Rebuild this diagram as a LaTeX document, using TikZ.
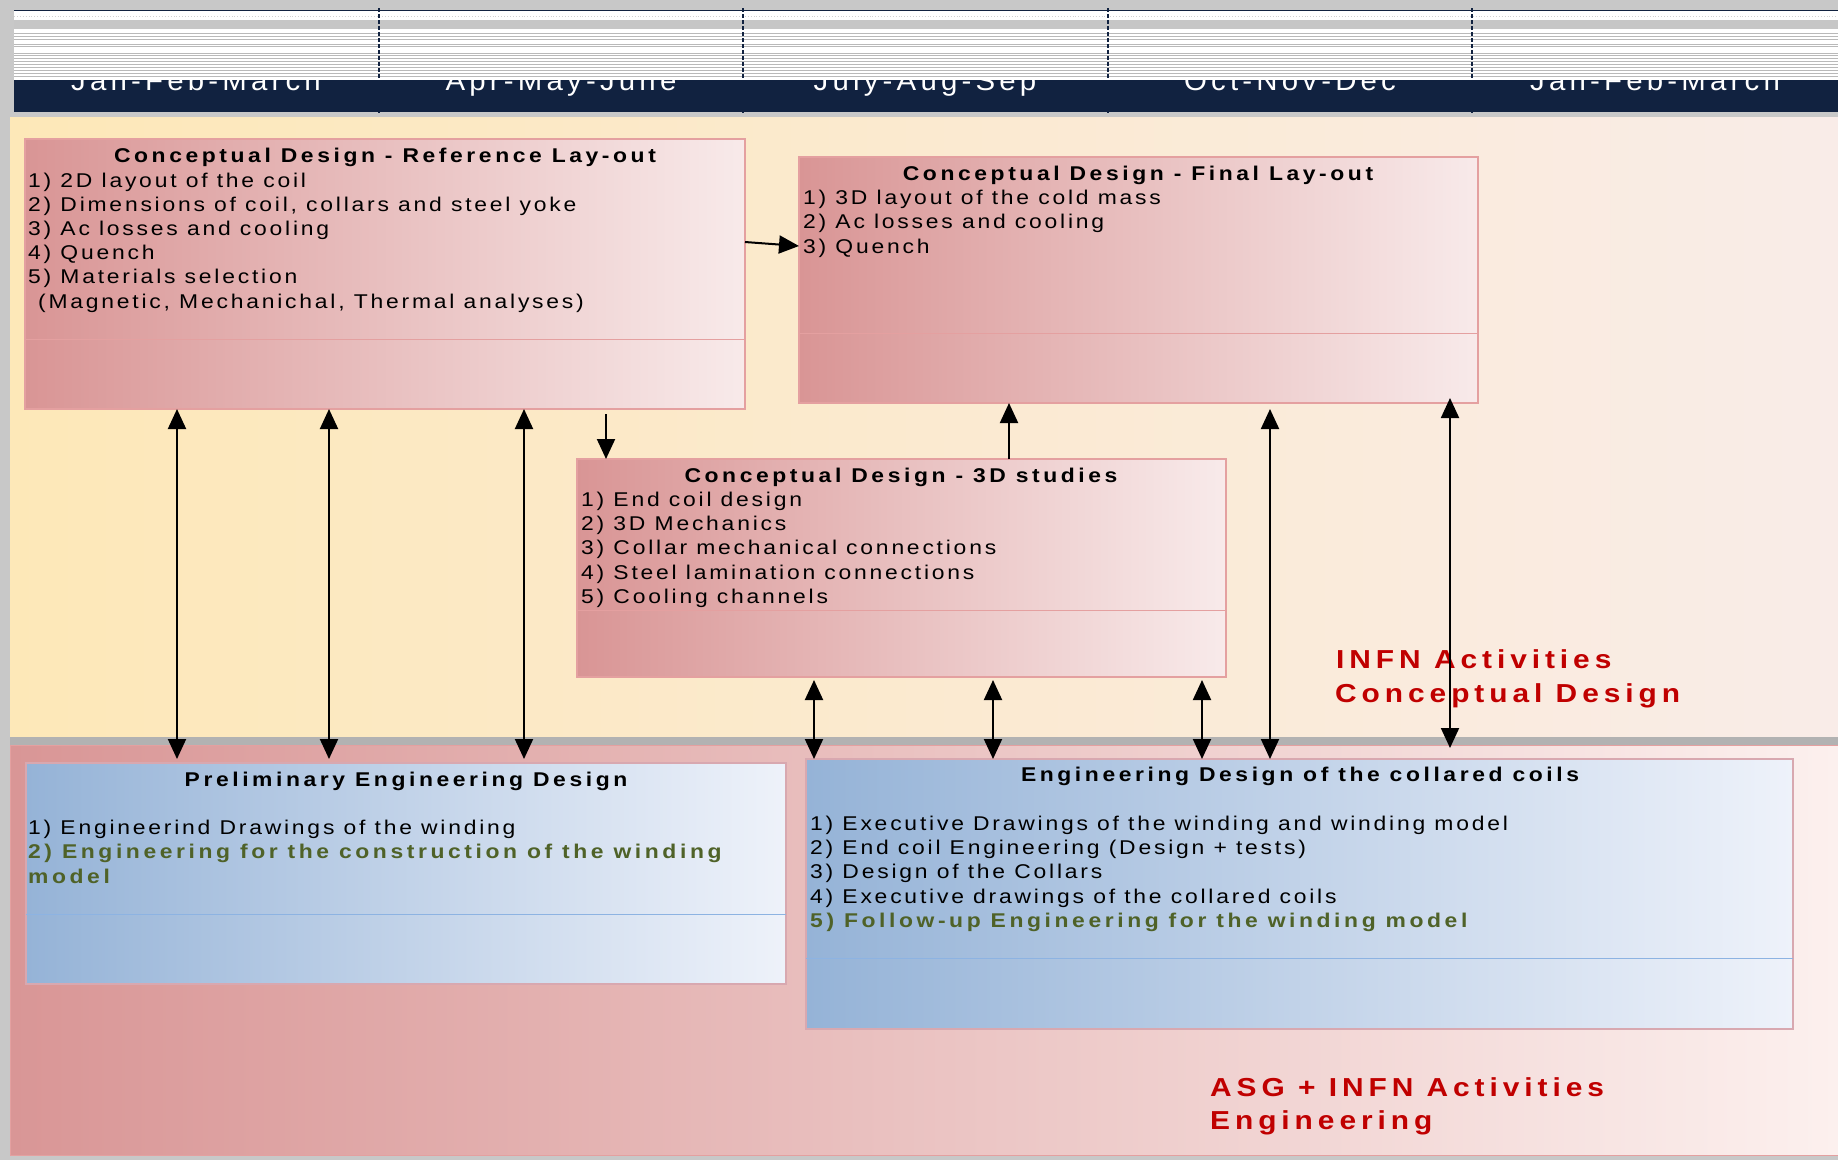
\documentclass[tikz,border=0pt]{standalone}
\usepackage{fontspec}
\setmainfont{Liberation Sans}[FakeStretch=1.15, LetterSpace=14]
\newfontfamily\boldsp{Liberation Sans}[FakeStretch=1.15, LetterSpace=18]
\newfontfamily\lblsp{Liberation Sans}[FakeStretch=1.15, LetterSpace=19]
\newfontfamily\monf{Liberation Sans}[FakeStretch=1.05, LetterSpace=15]
\usetikzlibrary{arrows.meta}
\definecolor{bggrey}{RGB}{200,200,200}
\definecolor{sepgrey}{RGB}{178,178,178}
\definecolor{navy}{RGB}{17,34,64}
\definecolor{upL}{RGB}{253,232,184}
\definecolor{upR}{RGB}{249,236,232}
\definecolor{lowL}{RGB}{217,150,150}
\definecolor{lowR}{RGB}{252,240,238}
\definecolor{pinkL}{RGB}{217,149,149}
\definecolor{pinkR}{RGB}{248,234,234}
\definecolor{pinkbd}{RGB}{228,160,160}
\definecolor{blueL}{RGB}{149,179,215}
\definecolor{blueR}{RGB}{238,242,250}
\definecolor{bluebd}{RGB}{216,168,176}
\definecolor{blueln}{RGB}{141,179,226}
\definecolor{olivetx}{RGB}{79,98,40}
\definecolor{lblred}{RGB}{192,0,0}
\tikzset{
  panel/.style={anchor=north west, inner sep=0pt, outer sep=0pt},
  pinkbox/.style={panel, draw=pinkbd, line width=1.2pt, left color=pinkL, right color=pinkR},
  bluebox/.style={panel, draw=bluebd, line width=1.2pt, left color=blueL, right color=blueR},
  ttl/.style={anchor=base, inner sep=0pt, font=\boldsp\bfseries\fontsize{19.9}{24}\selectfont},
  itm/.style={anchor=base west, inner sep=0pt, font=\fontsize{19.9}{24}\selectfont},
  gitm/.style={anchor=base west, inner sep=0pt, text=olivetx, font=\boldsp\bfseries\fontsize{19.9}{24}\selectfont},
  lbl/.style={anchor=base west, inner sep=0pt, text=lblred, font=\lblsp\bfseries\fontsize{26}{30}\selectfont},
  mon/.style={anchor=base, inner sep=0pt, text=white, font=\monf\fontsize{28}{32}\selectfont},
  arr/.style={line width=2pt, -{Triangle[length=20pt,width=18pt]}},
  darr/.style={line width=2pt, {Triangle[length=20pt,width=18pt]}-{Triangle[length=20pt,width=18pt]}},
  stripe/.style={draw=gray!55, line width=0.9pt},
  divl/.style={draw=navy, line width=2pt, dashed, dash pattern=on 4pt off 2pt}
}
\begin{document}
\begin{tikzpicture}[x=1pt,y=-1pt]
\useasboundingbox (0,0) rectangle (1838,1160);
\fill[bggrey] (0,0) rectangle (1838,1160);
% header
\node[panel, fill=navy, minimum width=1824pt, minimum height=102pt] (hdr) at (14,10) {};
\node[mon] (m1) at (196,90) {Jan-Feb-March};
\node[mon] (m2) at (561,90) {Apr-May-June};
\node[mon] (m3) at (925,90) {July-Aug-Sep};
\node[mon] (m4) at (1290,90) {Oct-Nov-Dec};
\node[mon] (m5) at (1655,90) {Jan-Feb-March};
\fill[white] (14,11) rectangle (1838,80);
\draw[stripe, gray!35, dotted] (14,16) -- (1838,16);
\fill[gray!45] (14,20) rectangle (1838,29);
\foreach \yy in {33,36,39,44,46,53,55,58,61,64,67,70,73,76}
  \draw[stripe, line width=0.7pt] (14,\yy) -- (1838,\yy);
\foreach \xx in {379,743,1108,1472}
  \draw[divl] (\xx,8) -- (\xx,113);
% panels
\node[panel, left color=upL, right color=upR, minimum width=1828pt, minimum height=620pt] (up) at (10,117) {};
\fill[sepgrey] (10,737) rectangle (1838,745);
\node[panel, draw=pinkbd, line width=0.8pt, left color=lowL, right color=lowR, minimum width=1828pt, minimum height=410pt] (low) at (10,745) {};
% box A
\node[pinkbox, minimum width=720pt, minimum height=270pt] (A) at (25,139) {};
\draw[pinkbd, line width=1pt] ([yshift=-200pt]A.north west) -- ([yshift=-200pt]A.north east);
\node[ttl] (At) at (385,162) {Conceptual Design - Reference Lay-out};
\node[itm] (A1) at (28,187) {1) 2D layout of the coil};
\node[itm] (A2) at (28,211) {2) Dimensions of coil, collars and steel yoke};
\node[itm] (A3) at (28,235) {3) Ac losses and cooling};
\node[itm] (A4) at (28,259) {4) Quench};
\node[itm] (A5) at (28,283) {5) Materials selection};
\node[itm] (A6) at (38,308) {(Magnetic, Mechanichal, Thermal analyses)};
% box B
\node[pinkbox, minimum width=679pt, minimum height=246pt] (B) at (799,157) {};
\draw[pinkbd, line width=1pt] ([yshift=-176pt]B.north west) -- ([yshift=-176pt]B.north east);
\node[ttl] (Bt) at (1138,180) {Conceptual Design - Final Lay-out};
\node[itm] (B1) at (803,204) {1) 3D layout of the cold mass};
\node[itm] (B2) at (803,228) {2) Ac losses and cooling};
\node[itm] (B3) at (803,253) {3) Quench};
% box C
\node[pinkbox, minimum width=649pt, minimum height=218pt] (C) at (577,459) {};
\draw[pinkbd, line width=1pt] ([yshift=-151pt]C.north west) -- ([yshift=-151pt]C.north east);
\node[ttl] (Ct) at (901,482) {Conceptual Design - 3D studies};
\node[itm] (C1) at (581,506) {1) End coil design};
\node[itm] (C2) at (581,530) {2) 3D Mechanics};
\node[itm] (C3) at (581,554) {3) Collar mechanical connections};
\node[itm] (C4) at (581,579) {4) Steel lamination connections};
\node[itm] (C5) at (581,603) {5) Cooling channels};
% box D
\node[bluebox, minimum width=760pt, minimum height=221pt] (D) at (26,763) {};
\draw[blueln, line width=1pt] ([yshift=-151pt]D.north west) -- ([yshift=-151pt]D.north east);
\node[ttl] (Dt) at (406,786) {Preliminary Engineering Design};
\node[itm] (D1) at (28,834) {1) Engineerind Drawings of the winding};
\node[gitm] (D2) at (28,858) {2) Engineering for the construction of the winding};
\node[gitm] (D3) at (28,883) {model};
% box E
\node[bluebox, minimum width=987pt, minimum height=270pt] (E) at (806,759) {};
\draw[blueln, line width=1pt] ([yshift=-199pt]E.north west) -- ([yshift=-199pt]E.north east);
\node[ttl] (Et) at (1300,781) {Engineering Design of the collared coils};
\node[itm] (E1) at (810,830) {1) Executive Drawings of the winding and winding model};
\node[itm] (E2) at (810,854) {2) End coil Engineering (Design + tests)};
\node[itm] (E3) at (810,878) {3) Design of the Collars};
\node[itm] (E4) at (810,903) {4) Executive drawings of the collared coils};
\node[gitm] (E5) at (810,927) {5) Follow-up Engineering for the winding model};
% labels
\node[lbl] (L1) at (1336,668) {INFN Activities};
\node[lbl] (L2) at (1335,702) {Conceptual Design};
\node[lbl] (L3) at (1210,1096) {ASG + INFN Activities};
\node[lbl] (L4) at (1210,1129) {Engineering};
% connectors
\draw[arr] ([yshift=-103pt]A.north east) -- ([yshift=-89pt]B.north west);
\draw[darr] ([xshift=152pt]A.south west) -- ([xshift=151pt,yshift=4pt]D.north west);
\draw[darr] ([xshift=304pt]A.south west) -- ([xshift=303pt,yshift=4pt]D.north west);
\draw[darr] ([xshift=499pt]A.south west) -- ([xshift=498pt,yshift=4pt]D.north west);
\draw[arr] ([xshift=581pt,yshift=-5pt]A.south west) -- ([xshift=29pt]C.north west);
\draw[arr] ([xshift=432pt]C.north west) -- ([xshift=210pt]B.south west);
\draw[darr] ([xshift=237pt,yshift=-3pt]C.south west) -- ([xshift=8pt]E.north west);
\draw[darr] ([xshift=416pt,yshift=-3pt]C.south west) -- ([xshift=187pt]E.north west);
\draw[darr] ([xshift=625pt,yshift=-3pt]C.south west) -- ([xshift=396pt]E.north west);
\draw[darr] ([xshift=471pt,yshift=-6pt]B.south west) -- ([xshift=464pt]E.north west);
\draw[darr] ([xshift=651pt,yshift=5pt]B.south west) -- ([xshift=1440pt,yshift=-3pt]low.north west);
\end{tikzpicture}
\end{document}
